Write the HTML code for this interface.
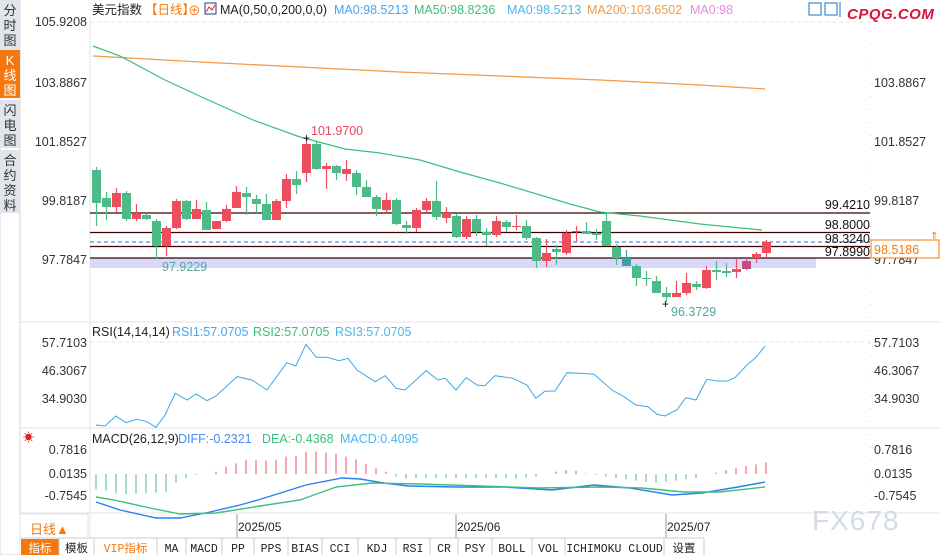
<!DOCTYPE html>
<html><head><meta charset="utf-8"><style>
body{margin:0;width:941px;height:555px;overflow:hidden;background:#fff;font-family:"Liberation Sans","Noto Sans CJK SC",sans-serif}
svg{position:absolute;left:0;top:0}
</style></head><body>
<svg id="s" width="941" height="555" xmlns="http://www.w3.org/2000/svg" font-family="Liberation Sans, Noto Sans CJK SC, sans-serif">
<rect x="0" y="0" width="20" height="555" fill="#fff" stroke="#d0d4dc"/>
<rect x="0" y="0" width="20" height="50" fill="#e1e4ea"/>
<rect x="0" y="50" width="20" height="48" fill="#f5780f"/>
<rect x="0" y="100" width="20" height="48" fill="#e1e4ea"/>
<rect x="0" y="150" width="20" height="63" fill="#e1e4ea"/>
<g font-size="13" fill="#333" text-anchor="middle">
<text x="10" y="15">分</text><text x="10" y="30">时</text><text x="10" y="45">图</text>
<text x="10" y="65" fill="#fff">K</text><text x="10" y="80" fill="#fff">线</text><text x="10" y="95" fill="#fff">图</text>
<text x="10" y="115">闪</text><text x="10" y="130">电</text><text x="10" y="145">图</text>
<text x="10" y="165">合</text><text x="10" y="180">约</text><text x="10" y="195">资</text><text x="10" y="210">料</text>
</g>
<line x1="90" y1="18" x2="90" y2="538" stroke="#e3e6eb"/>
<line x1="870" y1="18" x2="870" y2="513" stroke="#ccc" stroke-dasharray="1,12"/>
<line x1="90" y1="22" x2="870" y2="22" stroke="#e5e5e5" stroke-dasharray="4,3"/>
<line x1="20" y1="322" x2="941" y2="322" stroke="#e0e3e8"/>
<line x1="20" y1="428" x2="941" y2="428" stroke="#e0e3e8"/>
<line x1="20" y1="513" x2="941" y2="513" stroke="#e0e3e8"/>
<line x1="90" y1="342" x2="870" y2="342" stroke="#e5e5e5" stroke-dasharray="4,3"/>
<g font-size="12.5" fill="#333" text-anchor="end">
<text x="87" y="26">105.9208</text><text x="87" y="87">103.8867</text><text x="87" y="146">101.8527</text><text x="87" y="205">99.8187</text><text x="87" y="264">97.7847</text>
<text x="87" y="347">57.7103</text><text x="87" y="375">46.3067</text><text x="87" y="403">34.9030</text>
<text x="87" y="454">0.7816</text><text x="87" y="478">0.0135</text><text x="87" y="500">-0.7545</text>
</g>
<g font-size="12.5" fill="#333">
<text x="874" y="87">103.8867</text><text x="874" y="146">101.8527</text><text x="874" y="205">99.8187</text><text x="874" y="264">97.7847</text>
<text x="874" y="347">57.7103</text><text x="874" y="375">46.3067</text><text x="874" y="403">34.9030</text>
<text x="874" y="454">0.7816</text><text x="874" y="478">0.0135</text><text x="874" y="500">-0.7545</text>
</g>
<g font-size="12.5">
<text x="92" y="14" fill="#222">美元指数</text>
<text x="145" y="14" fill="#f5780f">【日线】</text>
<text x="188" y="15" fill="#f5780f">⊕</text>
<rect x="205" y="3" width="11" height="11" fill="#fff" stroke="#1a3a8a"/>
<polyline points="206,12 209,7 212,10 215,5" fill="none" stroke="#d22" stroke-width="1"/>
<text x="220" y="14" fill="#222">MA(0,50,0,200,0,0)</text>
<text x="334" y="14" fill="#4aa3f0">MA0:98.5213</text>
<text x="414" y="14" fill="#3cbf7a">MA50:98.8236</text>
<text x="507" y="14" fill="#4ab8ee">MA0:98.5213</text>
<text x="587" y="14" fill="#f59a4a">MA200:103.6502</text>
<text x="690" y="14" fill="#ee88dd">MA0:98</text>
</g>
<rect x="809" y="3" width="12" height="12" fill="#fff" stroke="#1a73c8"/>
<rect x="825" y="3" width="12" height="12" fill="#fff" stroke="#1a73c8"/>
<line x1="840" y1="2" x2="840" y2="17" stroke="#1a73c8"/>
<text x="847" y="19" font-size="15" font-weight="bold" font-style="italic" fill="#d4143c" letter-spacing="0.5">CPQG.COM</text>
<rect x="90" y="258" width="726" height="10" fill="#d8d8fc"/>
<g stroke="#3a0000" stroke-width="1.3">
<line x1="90" y1="213" x2="870" y2="213"/><line x1="90" y1="232.5" x2="870" y2="232.5"/>
<line x1="90" y1="246.5" x2="870" y2="246.5"/><line x1="90" y1="258" x2="870" y2="258"/>
</g>
<line x1="90" y1="242" x2="870" y2="242" stroke="#1a73e8" stroke-dasharray="4,3"/>
<g font-size="12.5" fill="#111" text-anchor="end">
<text x="870" y="209">99.4210</text><text x="870" y="229">98.8000</text><text x="870" y="243">98.3240</text><text x="870" y="256">97.8990</text>
</g>
<rect x="871" y="240" width="68" height="18" fill="#fff" stroke="#f5780f"/>
<text x="874" y="254" font-size="12.5" fill="#f5780f">98.5186</text>
<text x="930" y="239" font-size="10" fill="#f5780f">⇑</text>
<polyline fill="none" stroke="#f59a4a" stroke-width="1.3" points="93,56 200,62 300,67 400,72 500,76 600,80 700,85 765,89"/>
<polyline fill="none" stroke="#3cbf7a" stroke-width="1.2" points="93,46 120,56 165,80 206,99 253,120 300,137 345,149 380,153 420,160 460,172 500,183 540,195 570,204 600,212 640,216 700,224 762,230"/>
<g id="candles"></g>
<text x="311" y="135" font-size="12.5" fill="#e8465a">101.9700</text>
<text x="303" y="142" font-size="12" fill="#000">+</text>
<text x="162" y="271" font-size="12.5" fill="#4fa8a0">97.9229</text>
<text x="662" y="308" font-size="12" fill="#000">+</text>
<text x="671" y="316" font-size="12.5" fill="#4fa8a0">96.3729</text>
<g font-size="12.5"><text x="92" y="336" fill="#222">RSI(14,14,14)</text><text x="172" y="336" fill="#4aa3f0">RSI1:57.0705</text><text x="253" y="336" fill="#3cbf7a">RSI2:57.0705</text><text x="335" y="336" fill="#4ab8ee">RSI3:57.0705</text></g>
<polyline id="rsi" fill="none" stroke="#3aa8e8" stroke-width="1"/>
<text x="23" y="441" font-size="11" fill="#d22">☀</text>
<g font-size="12.5"><text x="92" y="443" fill="#222">MACD(26,12,9)</text><text x="178" y="443" fill="#4a8af0">DIFF:-0.2321</text><text x="262" y="443" fill="#3cbf7a">DEA:-0.4368</text><text x="340" y="443" fill="#4ab8ee">MACD:0.4095</text></g>
<g id="hist"></g>
<polyline fill="none" stroke="#2a7ff0" stroke-width="1.4" points="96,502 120,510 156,518 180,518 210,512 240,505 258,500 306,485 342,478 360,479 384,483 408,486 456,487 504,487 552,490 594,485 630,488 672,495 702,493 738,487 765,482"/>
<polyline fill="none" stroke="#3cbf7a" stroke-width="1.4" points="96,497 114,500 150,508 180,514 216,513 260,506 300,500 336,487 372,483 420,484 480,486 540,488 600,487 642,488 684,492 720,492 765,487"/>
<rect x="20" y="514" width="68" height="24" fill="#fff" stroke="#e0e3e8"/>
<text x="30" y="534" font-size="13" fill="#f5780f">日线▲</text>
<g font-size="12" fill="#222"><text x="238" y="531">2025/05</text><text x="457" y="531">2025/06</text><text x="667" y="531">2025/07</text></g>
<g stroke="#999"><line x1="237" y1="514" x2="237" y2="538"/><line x1="456" y1="514" x2="456" y2="538"/><line x1="666" y1="514" x2="666" y2="538"/></g>
<text x="812" y="530" font-size="28" fill="#d5dbe6" letter-spacing="1">FX678</text>
<rect x="20" y="538" width="921" height="17" fill="#fff"/>
<line x1="20" y1="538" x2="704" y2="538" stroke="#ccc"/>
<rect x="21" y="539" width="38" height="16" fill="#f5780f"/>
<g font-size="11.5" font-family="Liberation Mono, Noto Sans CJK SC, monospace" fill="#222" text-anchor="middle" id="tabs"></g>
</svg>
<script>
const NS="http://www.w3.org/2000/svg";
function el(p,t,a){const e=document.createElementNS(NS,t);for(const k in a)e.setAttribute(k,a[k]);p.appendChild(e);return e;}
const C=[[170,203,167,226,'g'],[198,207,192,220,'g'],[193,207,188,212,'r'],[193,219,191,221,'g'],[214,219,204,221,'r'],[215,219,214,220,'g'],[221,246,219,259,'g'],[228,246,226,256,'r'],[201,228,199,229,'r'],[201,219,200,220,'g'],[209,219,200,219,'r'],[210,230,202,230,'g'],[221,229,221,229,'r'],[209,221,205,222,'r'],[192,208,186,208,'r'],[193,197,187,215,'g'],[199,204,195,213,'g'],[204,220,194,220,'g'],[201,220,199,220,'r'],[179,201,174,208,'r'],[179,185,171,194,'g'],[144,173,138,182,'r'],[144,169,142,170,'g'],[166,169,163,189,'r'],[166,173,165,180,'g'],[169,174,160,181,'r'],[173,187,170,195,'g'],[187,197,180,197,'g'],[197,209,195,216,'g'],[200,210,193,213,'r'],[200,224,198,225,'g'],[225,228,221,234,'g'],[210,228,208,232,'r'],[201,210,198,213,'r'],[201,217,181,220,'g'],[213,218,207,223,'r'],[216,237,214,238,'g'],[219,237,216,239,'r'],[219,232,215,236,'g'],[232,235,228,246,'g'],[221,235,216,237,'r'],[222,227,220,232,'g'],[226,227,215,230,'r'],[226,238,220,240,'g'],[238,261,237,268,'g'],[253,261,239,267,'r'],[249,252,245,265,'g'],[233,253,230,255,'r'],[231,232,226,242,'r'],[231,234,222,234,'g'],[233,235,229,240,'g'],[221,246,214,246,'g'],[247,258,244,265,'g'],[258,266,250,266,'t'],[266,278,264,286,'g'],[278,279,271,286,'g'],[281,293,276,293,'g'],[293,297,287,302,'g'],[293,297,281,297,'r'],[283,293,273,295,'r'],[284,287,281,290,'g'],[270,288,266,289,'r'],[270,272,261,280,'g'],[271,273,263,277,'g'],[269,272,259,278,'r'],[261,269,257,270,'p'],[254,258,252,263,'r'],[242,253,240,258,'r']];
const col={r:'#ee4d5e',g:'#4dbb88',t:'#3fa0a0',p:'#c94a82'};
const cg=document.getElementById('candles');
C.forEach((c,i)=>{const x=96.5+10*i;const f=col[c[4]];
el(cg,'line',{x1:x,y1:c[2],x2:x,y2:c[3],stroke:f,'stroke-width':1.2});
el(cg,'rect',{x:x-4.5,y:c[0],width:9,height:Math.max(1,c[1]-c[0]),fill:f});});
const R=[[160,315],[175,318],[193,288],[210,308],[228,298],[245,305],[260,322],[275,285],[292,220],[312,240],[327,222],[345,242],[360,228],[395,170],[420,180],[445,210],[478,128],[493,138],[510,73],[527,112],[545,112],[565,122],[580,115],[595,150],[625,185],[642,167],[660,205],[675,210],[710,152],[730,180],[742,175],[760,210],[777,173],[795,195],[808,197],[825,167],[855,175],[878,195],[893,235],[908,214],[925,213],[945,158],[965,160],[990,163],[1020,210],[1040,230],[1060,255],[1080,260],[1095,283],[1108,288],[1128,270],[1143,233],[1160,240],[1178,178],[1195,183],[1212,183],[1225,173],[1245,135],[1260,112],[1275,78]];
document.getElementById('rsi').setAttribute('points',R.map(p=>(p[0]/1.6667).toFixed(1)+','+(320+p[1]/3).toFixed(1)).join(' '));
const H=[508,512,520,522,522,520,518,515,488,475,465,462,455,440,430,420,420,422,420,410,408,395,395,398,402,410,418,432,445,455,470,476,474,474,474,474,474,475,474,473,474,475,476,472,470,462,455,450,452,460,465,470,474,478,482,486,488,485,482,478,474,462,458,450,444,438,433,427];
const hg=document.getElementById('hist');const z=320+462/3;
H.forEach((h,i)=>{const x=96+10*i;const y=320+h/3;el(hg,'line',{x1:x,y1:z,x2:x,y2:y,stroke:y<z?'#ee4d5e':'#4dbb88','stroke-width':1});});
const T=[['指标',21,59],['模板',59,94],['VIP指标',94,157],['MA',157,186],['MACD',186,222],['PP',222,254],['PPS',254,288],['BIAS',288,322],['CCI',322,358],['KDJ',358,396],['RSI',396,430],['CR',430,458],['PSY',458,492],['BOLL',492,532],['VOL',532,565],['ICHIMOKU CLOUD',565,664],['设置',664,704]];
const tg=document.getElementById('tabs');
T.forEach((t,i)=>{const e=el(tg,'text',{x:(t[1]+t[2])/2,y:552,fill:i==0?'#fff':(i==2?'#f5780f':'#222')});e.textContent=t[0];
el(tg,'line',{x1:t[2],y1:538,x2:t[2],y2:555,stroke:'#ccc'});});
</script>
</body></html>
